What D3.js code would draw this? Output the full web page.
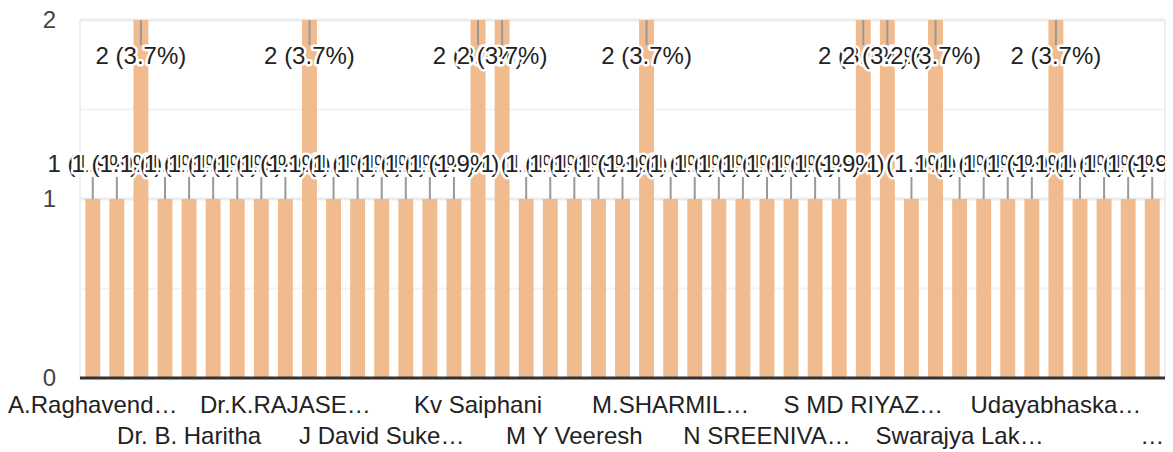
<!DOCTYPE html>
<html><head><meta charset="utf-8">
<script src="https://cdn.jsdelivr.net/npm/d3@7"></script>
<style>
html,body{margin:0;padding:0;background:#fff;}
svg{display:block;font-family:"Liberation Sans",Arial,sans-serif;}
</style></head>
<body><svg id="c" width="1173" height="452"></svg>
<script>
// Bar values (45 respondents, alphabetical order)
const values = [1,1,2,1,1,1,1,1,1,2,1,1,1,1,1,1,2,2,1,1,1,1,1,2,1,1,1,1,1,1,1,1,2,2,1,2,1,1,1,1,2,1,1,1,1];
// Visible category labels (every 4th bar), as shown (truncated)
const tickIndex = [0,4,8,12,16,20,24,28,32,36,40,44];
const tickLabels = ["A.Raghavend…","Dr. B. Haritha","Dr.K.RAJASE…","J David Suke…","Kv Saiphani","M Y Veeresh","M.SHARMIL…","N SREENIVA…","S MD RIYAZ…","Swarajya Lak…","Udayabhaska…","…"];
const yTicks = [0,1,2];
const yMinor = [0.5,1.5];

const svg = d3.select("#c");
const L=80, R=1165, T=20, B=378;
const x = d3.scaleBand().domain(d3.range(values.length)).range([L,R]).paddingInner(0.38).paddingOuter(0.22);
const y = d3.scaleLinear().domain([0,2]).range([B,T]);
const total = d3.sum(values);

svg.append("defs").append("clipPath").attr("id","lc")
  .append("rect").attr("x",0).attr("y",0).attr("width",R).attr("height",B);

// grid
svg.append("g").selectAll("line").data(yMinor).join("line")
  .attr("x1",L).attr("x2",R).attr("y1",d=>y(d)).attr("y2",d=>y(d))
  .attr("stroke","#f3f3f3").attr("stroke-width",2);
svg.append("g").selectAll("line").data(yTicks.filter(d=>d>0)).join("line")
  .attr("x1",L).attr("x2",R).attr("y1",d=>y(d)).attr("y2",d=>y(d))
  .attr("stroke","#ececec").attr("stroke-width",3);
svg.append("line").attr("x1",L).attr("x2",L).attr("y1",T).attr("y2",B).attr("stroke","#efefef").attr("stroke-width",2);
svg.append("line").attr("x1",R).attr("x2",R).attr("y1",T).attr("y2",B).attr("stroke","#efefef").attr("stroke-width",2);

// y labels
svg.append("g").selectAll("text").data(yTicks).join("text")
  .attr("x",56).attr("y",d=>y(d)).attr("dy","0.35em").attr("text-anchor","end")
  .attr("font-size",24).attr("fill","#444").text(d=>d);

// bars
svg.append("g").selectAll("rect").data(values).join("rect")
  .attr("x",(d,i)=>x(i)).attr("width",x.bandwidth())
  .attr("y",d=>y(d)).attr("height",d=>B-y(d))
  .attr("fill","#f0bc8f");

// baseline
svg.append("line").attr("x1",L).attr("x2",R).attr("y1",B).attr("y2",B).attr("stroke","#333").attr("stroke-width",3);

// leader lines
const cx = i => x(i)+x.bandwidth()/2;
svg.append("g").selectAll("line").data(values).join("line")
  .attr("x1",(d,i)=>cx(i)).attr("x2",(d,i)=>cx(i))
  .attr("y1",d=>y(d)).attr("y2",d=> d>=2 ? y(d)+25 : y(d)-22)
  .attr("stroke","#999").attr("stroke-width",2);

// data labels
const fmt = d=> d+" ("+(d/total*100).toFixed(1)+"%)";
const lab = svg.append("g").attr("clip-path","url(#lc)");
values.forEach((d,i)=>{
  lab.append("text")
    .attr("x",cx(i)).attr("y", d>=2 ? y(d)+44 : y(d)-27)
    .attr("text-anchor","middle").attr("font-size",24).attr("fill","#222")
    .attr("stroke","#fff").attr("stroke-width",5).attr("stroke-linejoin","round")
    .attr("paint-order","stroke")
    .text(fmt(d));
});

// x labels
svg.append("g").selectAll("text").data(tickIndex).join("text")
  .attr("x",d=>cx(d)).attr("y",(d,k)=> k%2===0 ? 413 : 444)
  .attr("text-anchor","middle").attr("font-size",24).attr("fill","#222")
  .text((d,k)=>tickLabels[k]);
</script></body></html>
